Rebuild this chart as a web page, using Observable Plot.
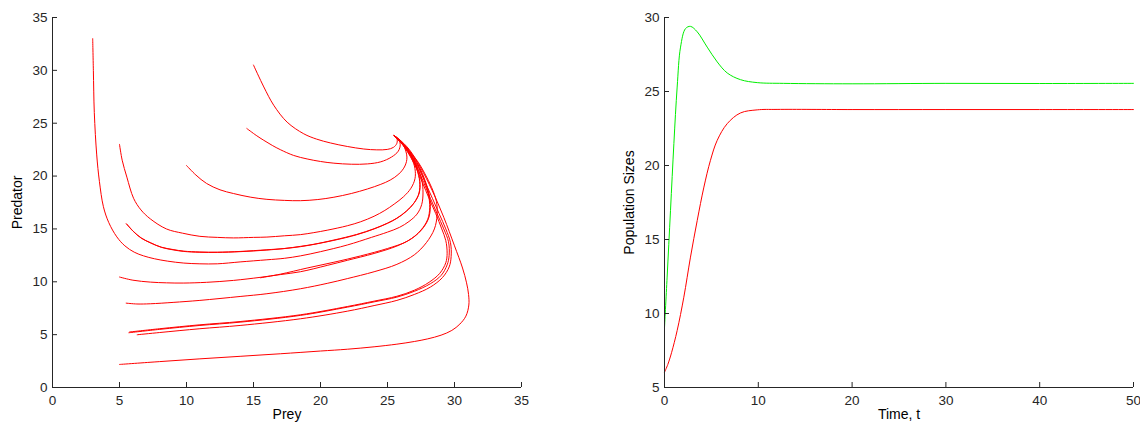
<!DOCTYPE html>
<html>
<head>
<meta charset="utf-8">
<script src="https://cdn.jsdelivr.net/npm/d3@7"></script>
<script src="https://cdn.jsdelivr.net/npm/@observablehq/plot@0.6"></script>
<style>
  html, body { margin: 0; padding: 0; background: #fff; }
  #wrap { display: flex; flex-direction: row; width: 1140px; height: 423px; overflow: hidden; }
  svg { font-family: "Liberation Sans", Arial, Helvetica, sans-serif; }
</style>
</head>
<body>
<div id="wrap"></div>
<script>
// ---------- Left panel: phase-plane trajectories [prey, predator] ----------
const traj1 = [[15.0,30.5],[15.77,28.43],[16.51,26.7],[17.51,25.1],[18.75,24.0],[19.7,23.5],[20.75,23.13],[22.0,22.8],[23.23,22.56],[24.2,22.48],[24.98,22.52],[25.45,22.72],[25.7,23.1],[25.7,23.55],[25.5,23.8]];
const traj2 = [[14.5,24.5],[15.2,23.85],[15.77,23.38],[16.4,22.9],[17.0,22.5],[18.0,21.95],[19.0,21.62],[20.0,21.38],[21.0,21.22],[22.3,21.12],[23.5,21.15],[24.5,21.35],[25.3,21.8],[25.8,22.35],[25.95,23.0],[25.75,23.6],[25.5,23.8]];
const traj3 = [[10.0,21.0],[10.7,20.1],[11.5,19.3],[12.5,18.7],[13.5,18.35],[14.8,18.0],[16.0,17.8],[17.3,17.7],[18.5,17.67],[19.8,17.78],[21.0,18.0],[22.3,18.35],[23.5,18.78],[24.5,19.22],[25.2,19.62],[25.85,20.2],[26.3,20.95],[26.45,21.8],[26.2,22.9],[25.85,23.5],[25.5,23.8]];
const traj4 = [[5.0,23.0],[5.2,21.5],[5.55,19.9],[6.05,17.9],[6.6,16.8],[7.3,15.95],[8.5,15.0],[9.7,14.6],[11.0,14.3],[12.3,14.2],[13.5,14.15],[15.0,14.2],[16.0,14.23],[17.3,14.35],[18.5,14.46],[19.5,14.65],[20.5,14.88],[22.0,15.3],[23.0,15.68],[24.0,16.2],[24.8,16.75],[25.5,17.35],[26.2,18.05],[26.75,18.85],[27.05,19.75],[27.05,20.7],[26.8,21.7],[26.4,22.6],[26.0,23.2],[25.5,23.8]];
const traj5 = [[5.5,15.5],[6.0,14.8],[6.6,14.15],[7.3,13.7],[8.1,13.28],[9.0,13.05],[9.8,12.9],[11.0,12.82],[12.3,12.8],[14.0,12.87],[16.0,13.03],[17.3,13.15],[18.5,13.35],[19.5,13.55],[21.0,13.95],[22.7,14.48],[24.0,15.02],[25.0,15.55],[25.7,16.02],[26.4,16.68],[27.0,17.5],[27.35,18.4],[27.4,19.5],[27.2,20.6],[26.9,21.6],[26.5,22.5],[26.0,23.2],[25.5,23.8]];
const traj5b = [[5.55,15.45],[6.05,14.75],[6.65,14.12],[7.35,13.66],[8.15,13.25],[9.0,13.02],[9.8,12.87],[11.0,12.79],[12.3,12.78],[14.0,12.85],[16.0,13.0],[18.5,13.32],[21.0,13.92],[22.7,14.45],[24.0,15.0],[25.0,15.53],[25.7,16.0],[26.4,16.66],[27.0,17.48],[27.37,18.4],[27.42,19.5],[27.22,20.6],[26.92,21.6],[26.5,22.5],[26.0,23.2],[25.5,23.8]];
const traj6 = [[3.0,33.0],[3.05,30.0],[3.12,26.0],[3.3,22.0],[3.5,19.5],[3.8,17.1],[4.2,15.6],[4.8,14.25],[5.4,13.4],[6.1,12.8],[6.8,12.45],[7.6,12.18],[8.6,11.95],[9.8,11.77],[11.0,11.7],[12.3,11.7],[14.0,11.88],[16.0,12.08],[17.3,12.22],[18.5,12.45],[20.0,12.85],[22.0,13.48],[23.8,14.2],[25.0,14.7],[25.9,15.15],[26.6,15.7],[27.2,16.4],[27.55,17.3],[27.65,18.4],[27.55,19.7],[27.2,20.9],[26.8,21.9],[26.3,22.8],[25.9,23.3],[25.5,23.8]];
const traj7 = [[5.0,10.45],[6.0,10.15],[7.3,9.97],[8.5,9.9],[9.8,9.88],[11.5,9.95],[13.5,10.13],[15.5,10.42],[17.0,10.68],[18.5,10.95],[20.5,11.55],[22.0,12.03],[24.0,12.68],[25.7,13.38],[26.8,14.1],[27.5,14.9],[28.0,15.9],[28.15,17.0],[28.05,18.3],[27.75,19.6],[27.35,20.8],[26.9,21.8],[26.4,22.7],[25.95,23.3],[25.5,23.8]];
const traj8 = [[15.52,10.38],[17.0,10.72],[19.0,11.3],[21.0,11.85],[23.0,12.45],[25.0,13.15],[26.5,13.85],[27.5,14.85],[28.05,15.95],[28.2,17.1],[28.1,18.3],[27.8,19.6],[27.4,20.8],[26.95,21.8],[26.45,22.7],[26.0,23.3],[25.5,23.8]];
const traj9 = [[5.5,7.98],[6.3,7.9],[7.3,7.92],[9.0,8.05],[11.0,8.24],[14.0,8.61],[16.0,8.87],[18.5,9.34],[20.5,9.85],[22.0,10.3],[24.0,10.95],[25.7,11.65],[27.0,12.55],[27.9,13.7],[28.5,15.0],[28.7,16.3],[28.65,17.6],[28.3,18.9],[27.8,20.2],[27.3,21.3],[26.8,22.1],[26.3,22.85],[25.9,23.35],[25.5,23.8]];
const traj10 = [[5.7,5.18],[8.0,5.5],[11.0,5.87],[14.0,6.18],[18.5,6.82],[22.0,7.6],[24.0,8.1],[25.7,8.55],[27.0,9.1],[28.2,9.82],[29.0,10.6],[29.45,11.6],[29.6,12.5],[29.55,13.8],[29.2,15.0],[28.7,16.45],[28.2,17.9],[27.7,19.4],[27.2,20.8],[26.75,21.85],[26.3,22.7],[25.9,23.35],[25.5,23.8]];
const traj11 = [[5.75,5.25],[8.0,5.56],[11.0,5.93],[14.0,6.24],[18.5,6.88],[22.0,7.66],[24.0,8.17],[25.7,8.63],[27.0,9.2],[28.1,9.95],[28.9,10.8],[29.35,11.8],[29.45,12.7],[29.35,13.9],[29.05,15.0],[28.6,16.45],[28.1,17.9],[27.6,19.4],[27.15,20.75],[26.7,21.85],[26.25,22.75],[25.85,23.38],[25.5,23.8]];
const traj12 = [[6.32,4.99],[8.0,5.2],[11.0,5.56],[14.0,5.87],[18.5,6.5],[22.0,7.22],[24.0,7.75],[25.7,8.24],[27.0,8.8],[28.2,9.5],[29.1,10.4],[29.6,11.4],[29.75,12.4],[29.7,13.7],[29.35,15.0],[28.85,16.45],[28.35,17.9],[27.85,19.3],[27.35,20.7],[26.85,21.8],[26.4,22.65],[25.95,23.3],[25.5,23.8]];
const traj13 = [[5.0,2.18],[8.0,2.45],[11.0,2.71],[14.0,2.95],[17.0,3.19],[20.0,3.45],[22.0,3.62],[24.0,3.85],[25.7,4.1],[27.0,4.35],[28.0,4.6],[29.0,4.95],[29.8,5.4],[30.4,6.0],[30.85,6.75],[31.07,7.8],[31.05,8.8],[30.9,9.9],[30.6,11.3],[30.0,13.4],[29.2,16.1],[28.35,18.6],[27.45,20.85],[26.6,22.55],[25.85,23.5],[25.5,23.8]];

const trajectories = [traj1, traj2, traj3, traj4, traj5, traj5b, traj6, traj7, traj8, traj9, traj10, traj11, traj12, traj13];

const preyTicks = [0, 5, 10, 15, 20, 25, 30, 35];
const predatorTicks = [0, 5, 10, 15, 20, 25, 30, 35];

// ---------- Right panel: time series [t, size] ----------
const preySeries = [[0,9.05],[0.28,12.46],[0.64,16.97],[1.0,21.48],[1.35,25.3],[1.71,28.0],[2.24,29.25],[2.77,29.4],[3.49,29.03],[4.55,28.0],[5.62,27.0],[6.69,26.25],[8.1,25.8],[9.89,25.6],[12.7,25.55],[20,25.52],[30,25.55],[40,25.54],[50,25.55]];
const predatorSeries = [[0,6.03],[0.35,6.55],[0.75,7.35],[1.35,8.85],[2.06,11.1],[2.77,13.81],[3.49,16.29],[4.2,18.54],[4.9,20.35],[5.62,21.7],[6.69,22.83],[8.1,23.55],[9.89,23.76],[12,23.79],[20,23.78],[30,23.78],[40,23.78],[50,23.78]];

const timeTicks = [0, 10, 20, 30, 40, 50];
const popTicks = [5, 10, 15, 20, 25, 30];

const axisColor = "#262626";
const fontSize = 13.5;

function axesFor(xTicks, yTicks, xLabel, yLabel) {
  return [
    Plot.ruleX([xTicks[0]], {stroke: axisColor}),
    Plot.ruleY([yTicks[0]], {stroke: axisColor}),
    Plot.axisX(xTicks, {tickSize: -5, tickPadding: 13, stroke: axisColor, fill: axisColor, fontSize, label: null}),
    Plot.axisY(yTicks, {tickSize: -5, tickPadding: 10, stroke: axisColor, fill: axisColor, fontSize, label: null}),
    Plot.text([xLabel], {frameAnchor: "bottom", text: d => d, dy: 21.5, lineAnchor: "top", fontSize: 14, fill: "#000"}),
    Plot.text([yLabel], {frameAnchor: "left", text: d => d, dx: -35, rotate: -90, textAnchor: "middle", lineAnchor: "middle", fontSize: 14, fill: "#000"})
  ];
}

const left = Plot.plot({
  width: 570, height: 423,
  marginLeft: 52, marginRight: 49, marginTop: 17, marginBottom: 36,
  style: {fontFamily: '"Liberation Sans", Arial, Helvetica, sans-serif', background: "#fff", overflow: "visible"},
  x: {domain: [0, 35]},
  y: {domain: [0, 35]},
  marks: [
    ...trajectories.map(t => Plot.line(t, {x: d => d[0], y: d => d[1], stroke: "#ff0000", strokeWidth: 1, curve: "catmull-rom"})),
    ...axesFor(preyTicks, predatorTicks, "Prey", "Predator")
  ]
});

const right = Plot.plot({
  width: 570, height: 423,
  marginLeft: 94, marginRight: 7, marginTop: 17, marginBottom: 36,
  style: {fontFamily: '"Liberation Sans", Arial, Helvetica, sans-serif', background: "#fff", overflow: "visible"},
  x: {domain: [0, 50]},
  y: {domain: [5, 30]},
  marks: [
    Plot.line(preySeries, {x: d => d[0], y: d => d[1], stroke: "#00ee00", strokeWidth: 1, curve: "catmull-rom"}),
    Plot.line(predatorSeries, {x: d => d[0], y: d => d[1], stroke: "#ff0000", strokeWidth: 1, curve: "catmull-rom"}),
    ...axesFor(timeTicks, popTicks, "Time, t", "Population Sizes")
  ]
});

document.getElementById("wrap").append(left, right);
</script>
</body>
</html>
